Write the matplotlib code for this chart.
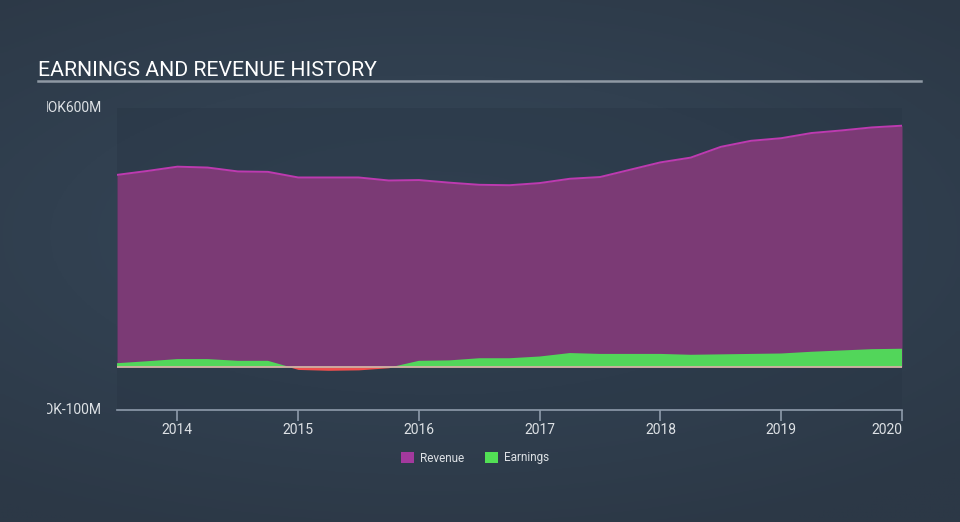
import numpy as np
import matplotlib
matplotlib.use("Agg")
import matplotlib.pyplot as plt
from matplotlib.patches import Patch
from matplotlib.transforms import Bbox

plt.rcParams['font.family'] = ['Roboto', 'DejaVu Sans']

# ---- data (NOK millions), quarterly ----
dates = [2013.5, 2013.75, 2014.0, 2014.25, 2014.5, 2014.75, 2015.0, 2015.25, 2015.5,
         2015.75, 2016.0, 2016.25, 2016.5, 2016.75, 2017.0, 2017.25, 2017.5, 2017.75,
         2018.0, 2018.25, 2018.5, 2018.75, 2019.0, 2019.25, 2019.5, 2019.75, 2020.0]
revenue = [445, 454, 464, 462, 453, 452, 439, 439, 439, 432, 433, 427, 422, 421, 426,
           436, 440, 457, 474, 485, 510, 524, 530, 542, 548, 555, 559]
earnings = [8.5, 13, 18, 18, 14, 14, -6, -8, -7, -2, 14, 15, 20, 20, 24, 32, 30, 30,
            30, 28, 29, 30, 31, 35, 38, 41, 42]
year_ticks = [2014, 2015, 2016, 2017, 2018, 2019, 2020]
y_ticks = [-100, 600]
y_labels = ['NOK-100M', 'NOK600M']
title = 'EARNINGS AND REVENUE HISTORY'

W, H = 960, 522
fig = plt.figure(figsize=(W / 100, H / 100), dpi=100)

# background gradient
bg = fig.add_axes([0, 0, 1, 1], zorder=-10)
yy, xx = np.mgrid[0:1:200j, 0:1:200j]
r = np.sqrt(((xx - 0.45) * 1.0) ** 2 + ((yy - 0.55) * 1.3) ** 2)
c0 = np.array([0x36, 0x48, 0x5a]) / 255
c1 = np.array([0x2c, 0x38, 0x46]) / 255
t = np.clip(r / 0.8, 0, 1)[..., None]
img = c0 * (1 - t) + c1 * t
bg.imshow(img, aspect='auto', extent=[0, 1, 0, 1], origin='lower')
bg.axis('off')

x = np.array(dates)
rev = np.array(revenue, dtype=float)
ern = np.array(earnings, dtype=float)

ax = fig.add_axes([117 / W, 1 - 410 / H, 785 / W, 302 / H])
ax.set_facecolor((0.16, 0.21, 0.27, 0.45))
ax.fill_between(x, 0, rev, color='#7b3a75', lw=0, zorder=2)
ax.plot(x, rev, color='#bd3ab0', lw=1.4, zorder=3)
ax.fill_between(x, 0, ern, where=ern >= 0, interpolate=True, color='#52d65a', lw=0, zorder=4)
ax.fill_between(x, 0, ern, where=ern <= 0, interpolate=True, color='#f0504e', lw=0, zorder=4)
ax.axhline(0, color='#d2b2a4', lw=1.3, zorder=5)

ax.set_xlim(2013.5, 2020.0)
ax.set_ylim(-100, 600)
for s in ['top', 'right', 'left']:
    ax.spines[s].set_visible(False)
ax.spines['bottom'].set_color('#8e9bab')
ax.spines['bottom'].set_linewidth(1.2)
ax.set_xticks(year_ticks)
ax.set_xticklabels([str(v) for v in year_ticks])
labs = ax.get_xticklabels()
labs[-1].set_horizontalalignment('right')
ax.tick_params(axis='x', colors='#8e9bab', labelcolor='#dde1e5', labelsize=10,
               length=8, width=1.2, pad=1, direction='out')
ax.set_yticks([])

# y labels (clipped on the left like the original)
clip = Bbox.from_extents(47, 0, W, H)
for v, lab in zip(y_ticks, y_labels):
    tt = fig.text(102 / W, 0, lab, color='#dde1e5', fontsize=10, ha='right', va='center',
                  transform=matplotlib.transforms.blended_transform_factory(fig.transFigure, ax.transData))
    tt.set_position((102 / W, v))
    tt.set_clip_box(clip)
    tt.set_clip_on(True)

fig.text(38 / W, 1 - 76 / H, title, color='white', fontsize=15.3, ha='left', va='baseline')
fig.add_artist(plt.Line2D([38 / W, 921 / W], [1 - 81 / H, 1 - 81 / H], color='#8f99a4', lw=1.8,
                          transform=fig.transFigure))

handles = [Patch(facecolor='#a3399d', edgecolor='none'), Patch(facecolor='#52e055', edgecolor='none')]
leg = fig.legend(handles, ['Revenue', 'Earnings'], loc='center', bbox_to_anchor=(475 / W, 1 - 458 / H),
                 ncol=2, frameon=False, fontsize=8.5, handlelength=1.1, handleheight=1.1,
                 handletextpad=0.5, columnspacing=1.8)
for tx in leg.get_texts():
    tx.set_color('#dde1e5')

fig.savefig('out.png', dpi=100)
